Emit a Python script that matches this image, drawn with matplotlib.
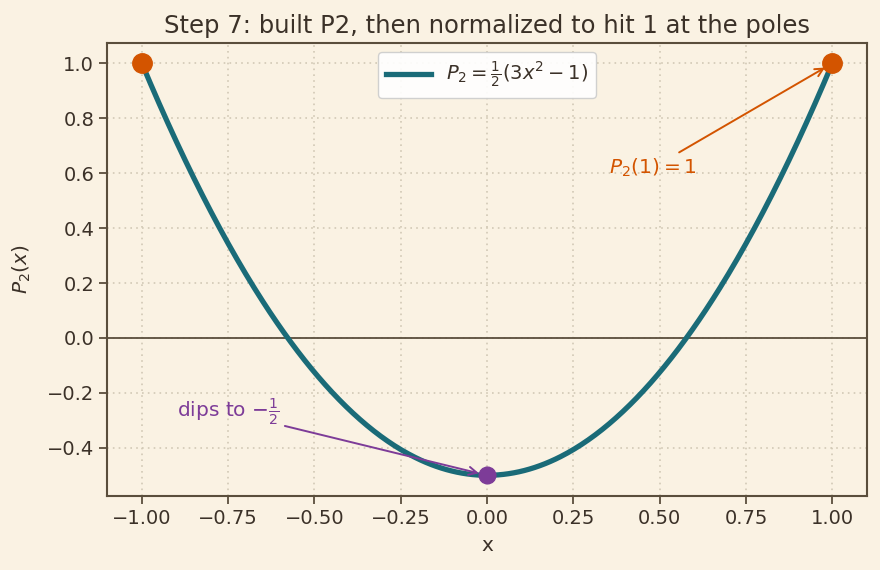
import numpy as np
import matplotlib
matplotlib.use("Agg")
import matplotlib.pyplot as plt

# P2 as polynomial coefficients (highest power first): 1.5 x^2 + 0 x - 0.5
p2_coeffs = [1.5, 0.0, -0.5]
x_range = [-1.0, 1.0]
pole_x = [-1.0, 1.0]
pole_y = [1.0, 1.0]
min_x = [0.0]
min_y = [-0.5]

BG = "#faf2e3"
INK = "#3b3128"
TEAL = "#1a6b78"
ORANGE = "#d35400"
PURPLE = "#7d3c98"
SPINE = "#5a4e3c"

plt.rcParams.update({
    "font.family": "DejaVu Sans",
    "text.color": INK,
    "axes.labelcolor": INK,
    "xtick.color": INK,
    "ytick.color": INK,
    "axes.edgecolor": SPINE,
    "axes.linewidth": 1.5,
})

x = np.linspace(x_range[0], x_range[1], 400)
y = np.polyval(p2_coeffs, x)

fig, ax = plt.subplots(figsize=(8.8, 5.7), dpi=100)
fig.patch.set_facecolor(BG)
ax.set_facecolor(BG)
ax.set_axisbelow(True)

ax.axhline(0, color=SPINE, linewidth=1.3, zorder=1.5)
ax.plot(x, y, color=TEAL, linewidth=3.8, label=r"$P_2 = \frac{1}{2}(3x^2 - 1)$", zorder=2)
ax.plot(pole_x, pole_y, "o", color=ORANGE, markersize=14, zorder=3)
ax.plot(min_x, min_y, "o", color=PURPLE, markersize=12, zorder=3)

ax.annotate(r"$P_2(1) = 1$", xy=(1.0, 1.0), xytext=(0.48, 0.62),
            color=ORANGE, fontsize=14.5, ha="center", va="center",
            arrowprops=dict(arrowstyle="->", color=ORANGE, lw=1.4, shrinkB=6))
ax.annotate(r"dips to $-\frac{1}{2}$", xy=(0.0, -0.5), xytext=(-0.75, -0.27),
            color=PURPLE, fontsize=14.5, ha="center", va="center",
            arrowprops=dict(arrowstyle="->", color=PURPLE, lw=1.4, shrinkB=6))

ax.set_title("Step 7: built P2, then normalized to hit 1 at the poles",
             fontsize=17.5, color=INK, pad=7)
ax.set_xlabel("x", fontsize=14.5, labelpad=6)
ax.set_ylabel(r"$P_2(x)$", fontsize=14.5, labelpad=10)
ax.tick_params(labelsize=14, length=6, width=1.3, color=SPINE)
ax.grid(True, linestyle=(0, (1, 2.5)), color="#d2c9b6", linewidth=1.2)
ax.set_xticks(np.arange(-1.0, 1.01, 0.25))

leg = ax.legend(loc="upper center", fontsize=14, facecolor="white", framealpha=0.9,
                edgecolor="#cccccc", handlelength=2.3)

fig.subplots_adjust(left=0.122, right=0.985, top=0.925, bottom=0.13)
fig.savefig("out.png", dpi=100, facecolor=BG)
